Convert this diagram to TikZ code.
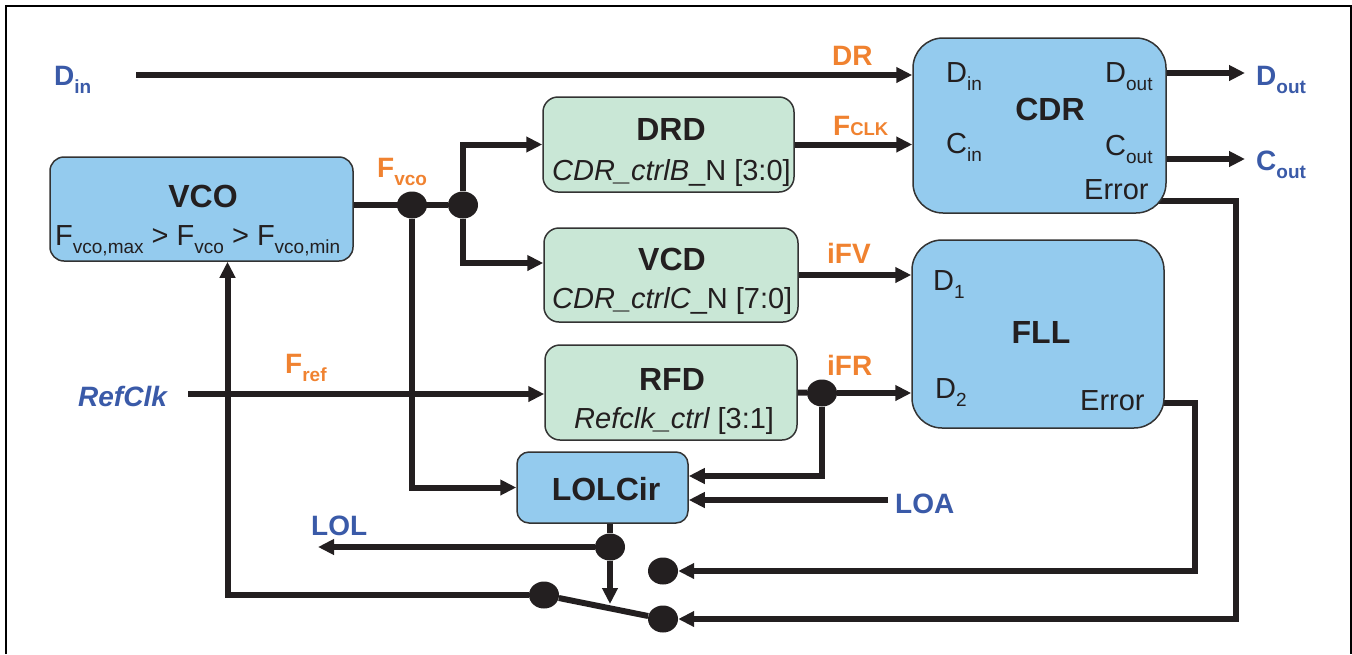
\documentclass[tikz,border=0pt]{standalone}
\usepackage{fontspec}
\setmainfont{Liberation Sans}
\usetikzlibrary{arrows.meta, backgrounds, calc, positioning, shapes.geometric}
\definecolor{boxB}{RGB}{148,203,238}
\definecolor{boxG}{RGB}{201,231,214}
\definecolor{txtB}{RGB}{58,90,168}
\definecolor{txtO}{RGB}{240,130,48}
\definecolor{wireC}{RGB}{35,31,32}
\newcommand\lsub[1]{\raisebox{-0.3em}{\fontsize{19pt}{19pt}\selectfont #1}}
\tikzset{
    wire/.style={line width=6pt, draw=wireC},
    sig/.style={wire, -{Triangle[length=16pt,width=15pt]}},
    blk/.style={draw=black!80, line width=1.5pt, rounded corners=#1, inner sep=0pt},
    blk/.default=14pt,
    blkB/.style={blk=#1, fill=boxB},
    blkB/.default=14pt,
    blkG/.style={blk=#1, fill=boxG},
    blkG/.default=15pt,
    dot/.style={ellipse, fill=wireC, minimum width=30pt, minimum height=27pt, inner sep=0pt},
    ttl/.style={font=\fontsize{32}{32}\selectfont\bfseries, text=wireC, inner sep=0pt, anchor=base},
    subtxt/.style={font=\fontsize{29}{29}\selectfont, text=wireC, inner sep=0pt, anchor=base west},
    port/.style={subtxt},
    lblB/.style={font=\fontsize{28}{28}\selectfont\bfseries, text=txtB, inner sep=0pt, anchor=base west},
    lblO/.style={lblB, text=txtO}
}
\begin{document}
\begin{tikzpicture}[x=1pt, y=-1pt]
    \useasboundingbox (0,0) rectangle (1352,654);
    \draw[line width=2pt] (6,654) -- (6,6) -- (1351,6) -- (1351,654);
    % blocks
    \node[blkB, minimum width=303pt, minimum height=104pt] (vco) at (201.5,209) {};
    \node[blkG, minimum width=251pt, minimum height=95pt] (drd) at (668.5,144.5) {};
    \node[blkG, minimum width=254pt, minimum height=94pt] (vcd) at (671,275) {};
    \node[blkG, minimum width=252pt, minimum height=95pt] (rfd) at (671,392.5) {};
    \node[blkB=12pt, minimum width=171pt, minimum height=71pt] (lol) at (602.5,487.5) {};
    \node[blkB=30pt, minimum width=253pt, minimum height=175pt] (cdr) at (1039.5,125.5) {};
    \node[blkB=30pt, minimum width=252pt, minimum height=188pt] (fll) at (1038,334) {};
    % block texts
    \node[ttl] (vcoT) at (203,207) {VCO};
    \node[subtxt] (vcoS) at (55,245) {F\lsub{vco,max} > F\lsub{vco} > F\lsub{vco,min}};
    \node[ttl] (drdT) at (671,140) {DRD};
    \node[subtxt] (drdS) at (552,180) {\itshape CDR\_ctrlB\upshape\_N [3:0]};
    \node[ttl] (vcdT) at (672,270) {VCD};
    \node[subtxt] (vcdS) at (552,308) {\itshape CDR\_ctrlC\upshape\_N [7:0]};
    \node[ttl] (rfdT) at (672,390) {RFD};
    \node[subtxt] (rfdS) at (574,428) {\itshape Refclk\_ctrl\upshape\ [3:1]};
    \node[ttl] (lolT) at (606,500) {LOLCir};
    \node[ttl] (cdrT) at (1050,120) {CDR};
    \node[port] (cdrDi) at (946,82) {D\lsub{in}};
    \node[port] (cdrDo) at (1105,82) {D\lsub{out}};
    \node[port] (cdrCi) at (946,153) {C\lsub{in}};
    \node[port] (cdrCo) at (1105,155) {C\lsub{out}};
    \node[port] (cdrEr) at (1084,199) {Error};
    \node[ttl] (fllT) at (1041,343) {FLL};
    \node[port] (fllD1) at (933,290) {D\lsub{1}};
    \node[port] (fllD2) at (935,398) {D\lsub{2}};
    \node[port] (fllEr) at (1080,410) {Error};
    % signal labels
    \node[lblB] (lDin) at (54,85) {D\lsub{in}};
    \node[lblO] (lDR) at (832,65) {DR};
    \node[lblO] (lFclk) at (833,135) {F{\fontsize{18.5}{18.5}\selectfont CLK}};
    \node[lblO] (lIfv) at (827,263) {iFV};
    \node[lblO] (lFvco) at (377,177) {F\lsub{vco}};
    \node[lblO] (lFref) at (285,373) {F\lsub{ref}};
    \node[lblB] (lRef) at (78,406) {\itshape RefClk};
    \node[lblB] (lLol) at (311,535) {LOL};
    \node[lblO] (lIfr) at (827,375) {iFR};
    \node[lblB] (lLoa) at (895,513) {LOA};
    \node[lblB] (lDout) at (1256,85) {D\lsub{out}};
    \node[lblB] (lCout) at (1256,170) {C\lsub{out}};
    % junctions and switch
    \node[dot] (d1) at (412,205) {};
    \node[dot] (d2) at (463,205) {};
    \node[dot] (d3) at (822,393) {};
    \node[dot] (d4) at (610,547) {};
    \node[dot] (sw1) at (544,595) {};
    \node[dot] (sw2) at (663,619) {};
    \node[dot] (sw3) at (663,571) {};
    \coordinate (dinS) at (136,75);
    \coordinate (doutE) at (1245,73);
    \coordinate (coutE) at (1245,159);
    \coordinate (refS) at (188,394);
    \coordinate (loaS) at (888,500);
    \coordinate (lolE) at (318,547);
    \coordinate (lever) at (610,604);
    \coordinate (cdrErr) at (1236,201);
    \coordinate (fllErr) at (1195,403);
    \begin{scope}[on background layer]
    \draw[sig] (dinS) -- (dinS -| cdr.west);
    \draw[sig] (cdr.east |- doutE) -- (doutE);
    \draw[sig] (cdr.east |- coutE) -- (coutE);
    \draw[wire] (vco.east |- d1) -- (d2);
    \draw[sig] (d2) |- (drd.west);
    \draw[sig] (d2) |- ([yshift=12pt]vcd.west);
    \draw[sig] (drd.east) -- (drd.east -| cdr.west);
    \draw[sig] (vcd.east) -- (vcd.east -| fll.west);
    \draw[sig] (refS) -- (refS -| rfd.west);
    \draw[wire] (rfd.east) -- (d3);
    \draw[sig] (d3) -- (d3 -| fll.west);
    \draw[sig] (d3) |- ([yshift=11.5pt]lol.east);
    \draw[sig] (loaS) -- (loaS -| lol.east);
    \draw[sig] (d1) |- (lol.west);
    \draw[wire] (d4 |- lol.south) -- (d4);
    \draw[sig] (d4) -- (lever);
    \draw[sig] (d4) -- (lolE);
    \draw[wire] (sw1) -- (sw2);
    \draw[sig] (sw1) -| ([xshift=26pt]vco.south);
    \draw[sig] (fll.center |- fllErr) -- (fllErr) |- (sw3);
    \draw[sig] (cdr.center |- cdrErr) -- (cdrErr) |- (sw2);
    \end{scope}
\end{tikzpicture}
\end{document}
